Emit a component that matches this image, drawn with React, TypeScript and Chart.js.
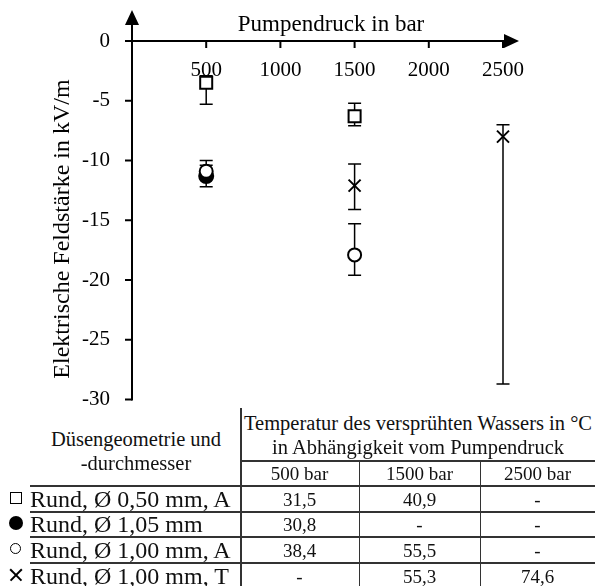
import React, { useEffect, useRef } from "react";
import { Chart, registerables } from "chart.js";

Chart.register(...registerables);

// ---------- data ----------
const xTicks = [500, 1000, 1500, 2000, 2500];
const yTicks = [0, -5, -10, -15, -20, -25, -30];
const xTitle = "Pumpendruck in bar";
const yTitle = "Elektrische Feldstärke in kV/m";

const squareX = [500, 1500];
const squareY = [-3.5, -6.3];
const squareLow = [-5.3, -7.1];
const squareHigh = [-2.9, -5.2];

const filledX = [500];
const filledY = [-11.3];
const filledLow = [-12.2];
const filledHigh = [-10.4];

const openX = [500, 1500];
const openY = [-10.9, -17.9];
const openLow = [-11.6, -19.6];
const openHigh = [-10.0, -15.3];

const crossX = [1500, 2500];
const crossY = [-12.1, -8.0];
const crossLow = [-14.1, -28.7];
const crossHigh = [-10.3, -7.0];

const leftHeader = ["Düsengeometrie und", "-durchmesser"];
const rightHeader = ["Temperatur des versprühten Wassers in °C", "in Abhängigkeit vom Pumpendruck"];
const tableColumns = ["500 bar", "1500 bar", "2500 bar"];
const rowLabels = ["Rund, Ø 0,50 mm, A", "Rund, Ø 1,05 mm", "Rund, Ø 1,00 mm, A", "Rund, Ø 1,00 mm, T"];
const rowSymbols = ["square", "filled", "open", "cross"];
const temp500 = ["31,5", "30,8", "38,4", "-"];
const temp1500 = ["40,9", "-", "55,5", "55,3"];
const temp2500 = ["-", "-", "-", "74,6"];

const FONT = '"Liberation Serif", "Times New Roman", serif';

const toPts = (xs: number[], ys: number[]) => xs.map((x, i) => ({ x, y: ys[i] }));

const axesPlugin = {
  id: "customAxes",
  beforeDatasetsDraw(chart: any) {
    const ctx = chart.ctx;
    const xs = chart.scales.x;
    const ys = chart.scales.y;
    // error bars
    chart.data.datasets.forEach((ds: any) => {
      ds.data.forEach((p: any, i: number) => {
        const px = xs.getPixelForValue(p.x);
        const pl = ys.getPixelForValue(ds.lows[i]);
        const ph = ys.getPixelForValue(ds.highs[i]);
        ctx.save();
        ctx.strokeStyle = "#000";
        ctx.lineWidth = 1.5;
        ctx.beginPath();
        ctx.moveTo(px, pl);
        ctx.lineTo(px, ph);
        ctx.moveTo(px - 6.5, pl);
        ctx.lineTo(px + 6.5, pl);
        ctx.moveTo(px - 6.5, ph);
        ctx.lineTo(px + 6.5, ph);
        ctx.stroke();
        ctx.restore();
      });
    });
  },
  afterDraw(chart: any) {
    const ctx = chart.ctx;
    const xs = chart.scales.x;
    const ys = chart.scales.y;
    const x0 = xs.getPixelForValue(0);
    const y0 = ys.getPixelForValue(0);
    const yBottom = ys.getPixelForValue(-30);
    const xEnd = xs.getPixelForValue(2500);
    ctx.save();
    ctx.strokeStyle = "#000";
    ctx.fillStyle = "#000";
    ctx.lineWidth = 2;
    // y axis
    ctx.beginPath();
    ctx.moveTo(x0, yBottom + 1);
    ctx.lineTo(x0, 22);
    ctx.stroke();
    ctx.beginPath();
    ctx.moveTo(x0, 10);
    ctx.lineTo(x0 - 7, 25);
    ctx.lineTo(x0 + 7, 25);
    ctx.closePath();
    ctx.fill();
    // x axis
    ctx.beginPath();
    ctx.moveTo(x0 - 7, y0);
    ctx.lineTo(xEnd + 5, y0);
    ctx.stroke();
    ctx.beginPath();
    ctx.moveTo(xEnd + 16, y0);
    ctx.lineTo(xEnd + 1, y0 - 7);
    ctx.lineTo(xEnd + 1, y0 + 7);
    ctx.closePath();
    ctx.fill();
    // y ticks
    ctx.font = `21px ${FONT}`;
    ctx.textAlign = "right";
    ctx.textBaseline = "middle";
    yTicks.forEach((v) => {
      const py = ys.getPixelForValue(v);
      ctx.beginPath();
      ctx.moveTo(x0 - 7, py);
      ctx.lineTo(x0, py);
      ctx.stroke();
      ctx.fillText(String(v), x0 - 22, py);
    });
    // x ticks
    ctx.textAlign = "center";
    xTicks.forEach((v) => {
      const px = xs.getPixelForValue(v);
      ctx.beginPath();
      ctx.moveTo(px, y0);
      ctx.lineTo(px, y0 + 7);
      ctx.stroke();
      ctx.fillText(String(v), px, y0 + 29);
    });
    // titles
    ctx.font = `23px ${FONT}`;
    ctx.fillText(xTitle, 331, 25);
    ctx.font = `24px ${FONT}`;
    ctx.translate(63, 229);
    ctx.rotate(-Math.PI / 2);
    ctx.fillText(yTitle, 0, 0);
    ctx.restore();
  },
};

function ChartCanvas() {
  const ref = useRef<HTMLCanvasElement | null>(null);
  useEffect(() => {
    if (!ref.current) return;
    const common = { borderColor: "#000", borderWidth: 2, clip: false };
    const chart = new Chart(ref.current, {
      type: "scatter",
      data: {
        datasets: [
          { label: "Rund, Ø 0,50 mm, A", data: toPts(squareX, squareY), lows: squareLow, highs: squareHigh, pointStyle: "rect", pointRadius: 8.5, backgroundColor: "#fff", ...common } as any,
          { label: "Rund, Ø 1,00 mm, A", data: toPts(openX, openY), lows: openLow, highs: openHigh, pointStyle: "circle", pointRadius: 6.5, backgroundColor: "#fff", ...common } as any,
          { label: "Rund, Ø 1,05 mm", data: toPts(filledX, filledY), lows: filledLow, highs: filledHigh, pointStyle: "circle", pointRadius: 7, backgroundColor: "#000", ...common } as any,
          { label: "Rund, Ø 1,00 mm, T", data: toPts(crossX, crossY), lows: crossLow, highs: crossHigh, pointStyle: "crossRot", pointRadius: 8.5, backgroundColor: "#000", ...common } as any,
        ],
      },
      options: {
        responsive: false,
        animation: false,
        devicePixelRatio: 1,
        layout: { padding: { left: 132, right: 92, top: 41, bottom: 8 } },
        plugins: { legend: { display: false }, tooltip: { enabled: false } },
        scales: {
          x: { type: "linear", min: 0, max: 2500, display: false },
          y: { type: "linear", min: -30, max: 0, display: false },
        },
      },
      plugins: [axesPlugin],
    } as any);
    return () => chart.destroy();
  }, []);
  return <canvas ref={ref} width={595} height={410} style={{ position: "absolute", left: 0, top: 0, width: 595, height: 410 }} />;
}

const line = (left: number, top: number, width: number, height: number, key: string) => (
  <div key={key} style={{ position: "absolute", left, top, width, height, background: "#333" }} />
);

const centered = (text: string, cx: number, cy: number, size: number, key: string) => (
  <div
    key={key}
    style={{
      position: "absolute",
      left: cx,
      top: cy,
      transform: "translate(-50%, -50%)",
      whiteSpace: "nowrap",
      fontSize: size,
      lineHeight: 1,
      fontFamily: FONT,
      color: "#111",
    }}
  >
    {text}
  </div>
);

function Symbol({ kind, cx, cy }: { kind: string; cx: number; cy: number }) {
  if (kind === "square")
    return <div style={{ position: "absolute", left: cx - 6, top: cy - 6, width: 10, height: 10, border: "1.5px solid #000" }} />;
  if (kind === "filled")
    return <div style={{ position: "absolute", left: cx - 7, top: cy - 7, width: 14, height: 14, borderRadius: "50%", background: "#000" }} />;
  if (kind === "open")
    return <div style={{ position: "absolute", left: cx - 6, top: cy - 6, width: 9, height: 9, borderRadius: "50%", border: "1.5px solid #000" }} />;
  return (
    <>
      <div style={{ position: "absolute", left: cx - 8, top: cy - 0.75, width: 16, height: 1.5, background: "#000", transform: "rotate(45deg)" }} />
      <div style={{ position: "absolute", left: cx - 8, top: cy - 0.75, width: 16, height: 1.5, background: "#000", transform: "rotate(-45deg)" }} />
    </>
  );
}

function Table() {
  const colCenters = [299.5, 419.5, 537.5];
  const rowCenters = [499, 524, 550, 576];
  const rowLines = [485, 511, 536, 562];
  const cols = [temp500, temp1500, temp2500];
  const els: any[] = [];
  els.push(line(240, 408, 1.5, 178, "v0"));
  els.push(line(359, 460, 1, 126, "v1"));
  els.push(line(480, 460, 1, 126, "v2"));
  els.push(line(240, 460, 355, 1.5, "h0"));
  rowLines.forEach((y, i) => els.push(line(30, y, 565, 1.5, "r" + i)));
  els.push(centered(leftHeader[0], 136, 439, 20.5, "lh0"));
  els.push(centered(leftHeader[1], 136, 463, 20.5, "lh1"));
  els.push(centered(rightHeader[0], 418, 423, 20.5, "rh0"));
  els.push(centered(rightHeader[1], 418, 447, 20.5, "rh1"));
  tableColumns.forEach((c, i) => els.push(centered(c, colCenters[i], 473, 19, "c" + i)));
  rowLabels.forEach((lab, r) => {
    els.push(
      <div
        key={"lab" + r}
        style={{ position: "absolute", left: 30, top: rowCenters[r] - 12, height: 24, lineHeight: "24px", fontSize: 24, fontFamily: FONT, whiteSpace: "nowrap", color: "#111" }}
      >
        {lab}
      </div>
    );
    els.push(<Symbol key={"s" + r} kind={rowSymbols[r]} cx={16} cy={rowCenters[r] - 1} />);
    cols.forEach((col, c) => els.push(centered(col[r], colCenters[c], rowCenters[r], 19, `v${r}_${c}`)));
  });
  return <>{els}</>;
}

export default function App() {
  return (
    <div style={{ position: "absolute", left: 0, top: 0, width: 595, height: 586, background: "#fff", overflow: "hidden" }}>
      <ChartCanvas />
      <Table />
    </div>
  );
}
